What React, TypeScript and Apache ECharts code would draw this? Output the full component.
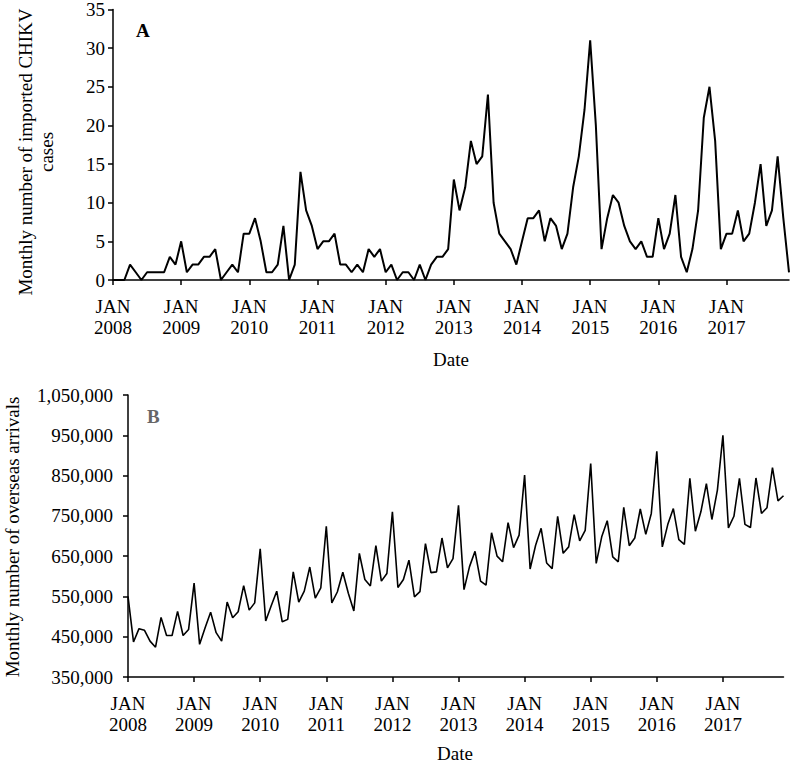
import React, { useEffect, useRef } from "react";
import * as echarts from "echarts";

const years = [2008, 2009, 2010, 2011, 2012, 2013, 2014, 2015, 2016, 2017];
const monthCodes = ["01", "02", "03", "04", "05", "06", "07", "08", "09", "10", "11", "12"];
const categories = years.flatMap((y) => monthCodes.map((m) => `${y}-${m}`));

const casesA = [
  0, 0, 0, 2, 1, 0, 1, 1, 1, 1, 3, 2,
  5, 1, 2, 2, 3, 3, 4, 0, 1, 2, 1, 6,
  6, 8, 5, 1, 1, 2, 7, 0, 2, 14, 9, 7,
  4, 5, 5, 6, 2, 2, 1, 2, 1, 4, 3, 4,
  1, 2, 0, 1, 1, 0, 2, 0, 2, 3, 3, 4,
  13, 9, 12, 18, 15, 16, 24, 10, 6, 5, 4, 2,
  5, 8, 8, 9, 5, 8, 7, 4, 6, 12, 16, 22,
  31, 20, 4, 8, 11, 10, 7, 5, 4, 5, 3, 3,
  8, 4, 6, 11, 3, 1, 4, 9, 21, 25, 18, 4,
  6, 6, 9, 5, 6, 10, 15, 7, 9, 16, 8, 1,
];

const arrivalsB = [
  550000, 437000, 470000, 466000, 439000, 424000, 498000, 453000, 453000, 513000, 453000, 468000,
  583000, 431000, 472000, 511000, 460000, 439000, 536000, 497000, 512000, 577000, 516000, 534000,
  668000, 489000, 527000, 563000, 487000, 493000, 611000, 536000, 563000, 623000, 546000, 571000,
  724000, 534000, 561000, 610000, 558000, 514000, 657000, 592000, 576000, 676000, 588000, 607000,
  760000, 572000, 592000, 640000, 549000, 562000, 681000, 609000, 611000, 695000, 621000, 644000,
  776000, 567000, 624000, 662000, 588000, 578000, 708000, 650000, 636000, 733000, 671000, 702000,
  851000, 618000, 677000, 719000, 633000, 619000, 749000, 657000, 673000, 753000, 688000, 714000,
  880000, 632000, 698000, 738000, 648000, 636000, 771000, 676000, 695000, 767000, 704000, 756000,
  910000, 673000, 729000, 768000, 691000, 679000, 843000, 712000, 760000, 830000, 741000, 814000,
  950000, 720000, 749000, 843000, 729000, 721000, 844000, 756000, 770000, 870000, 787000, 800000,
];

const FONT = "Liberation Serif, Times New Roman, serif";
const FS = 19;

function fmtThousands(v: number) {
  return Math.round(v).toString().replace(/\B(?=(\d{3})+(?!\d))/g, ",");
}

export default function App() {
  const ref = useRef<HTMLDivElement>(null);
  useEffect(() => {
    if (!ref.current) return;
    const chart = echarts.init(ref.current, undefined, { renderer: "svg" });
    const axisLine = { show: true, lineStyle: { color: "#000", width: 1.5 } };
    const tick = { show: true, interval: 11, length: 5, lineStyle: { color: "#000", width: 1.5 } };
    const xLabel = {
      interval: 11,
      color: "#000",
      fontFamily: FONT,
      fontSize: FS,
      lineHeight: 21,
      margin: 16,
      formatter: (v: string) => (v.endsWith("-01") ? `JAN\n${v.slice(0, 4)}` : ""),
    };
    chart.setOption({
      animation: false,
      backgroundColor: "#fff",
      grid: [
        { left: 113, top: 7, width: 676, height: 273 },
        { left: 128, top: 395, width: 655.5, height: 282 },
      ],
      xAxis: [
        {
          type: "category",
          gridIndex: 0,
          data: categories,
          boundaryGap: false,
          axisLine,
          axisTick: tick,
          axisLabel: xLabel,
          splitLine: { show: false },
        },
        {
          type: "category",
          gridIndex: 1,
          data: categories,
          boundaryGap: false,
          axisLine,
          axisTick: tick,
          axisLabel: xLabel,
          splitLine: { show: false },
        },
      ],
      yAxis: [
        {
          type: "value",
          gridIndex: 0,
          min: 0,
          max: 35,
          interval: 5,
          axisLine,
          axisTick: { show: true, length: 5, lineStyle: { color: "#000", width: 1.5 } },
          axisLabel: { color: "#000", fontFamily: FONT, fontSize: FS, margin: 8 },
          splitLine: { show: false },
        },
        {
          type: "value",
          gridIndex: 1,
          min: 350000,
          max: 1050000,
          interval: 100000,
          axisLine,
          axisTick: { show: true, length: 5, lineStyle: { color: "#000", width: 1.5 } },
          axisLabel: {
            color: "#000",
            fontFamily: FONT,
            fontSize: FS,
            margin: 15,
            formatter: (v: number) => fmtThousands(v),
          },
          splitLine: { show: false },
        },
      ],
      series: [
        {
          type: "line",
          xAxisIndex: 0,
          yAxisIndex: 0,
          data: casesA,
          showSymbol: false,
          lineStyle: { color: "#000", width: 2 },
        },
        {
          type: "line",
          xAxisIndex: 1,
          yAxisIndex: 1,
          data: arrivalsB,
          showSymbol: false,
          lineStyle: { color: "#000", width: 1.6 },
        },
      ],
      graphic: [
        {
          type: "text",
          x: 136,
          y: 30,
          style: { text: "A", fill: "#000", font: `bold ${FS}px ${FONT}`, align: "left", verticalAlign: "middle" },
        },
        {
          type: "text",
          x: 147,
          y: 416,
          style: { text: "B", fill: "#666", font: `bold ${FS}px ${FONT}`, align: "left", verticalAlign: "middle" },
        },
        {
          type: "text",
          x: 36,
          y: 152,
          rotation: Math.PI / 2,
          style: {
            text: "Monthly number of imported CHIKV\ncases",
            fill: "#000",
            font: `${FS}px ${FONT}`,
            lineHeight: 21,
            align: "center",
            verticalAlign: "middle",
          },
        },
        {
          type: "text",
          x: 12,
          y: 537,
          rotation: Math.PI / 2,
          style: {
            text: "Monthly number of overseas arrivals",
            fill: "#000",
            font: `${FS}px ${FONT}`,
            align: "center",
            verticalAlign: "middle",
          },
        },
        {
          type: "text",
          x: 451,
          y: 359,
          style: { text: "Date", fill: "#000", font: `${FS}px ${FONT}`, align: "center", verticalAlign: "middle" },
        },
        {
          type: "text",
          x: 455,
          y: 753,
          style: { text: "Date", fill: "#000", font: `${FS}px ${FONT}`, align: "center", verticalAlign: "middle" },
        },
      ],
    });
    return () => chart.dispose();
  }, []);
  return (
    <div
      ref={ref}
      style={{ position: "fixed", left: 0, top: 0, width: 790, height: 766, background: "#fff" }}
    />
  );
}
